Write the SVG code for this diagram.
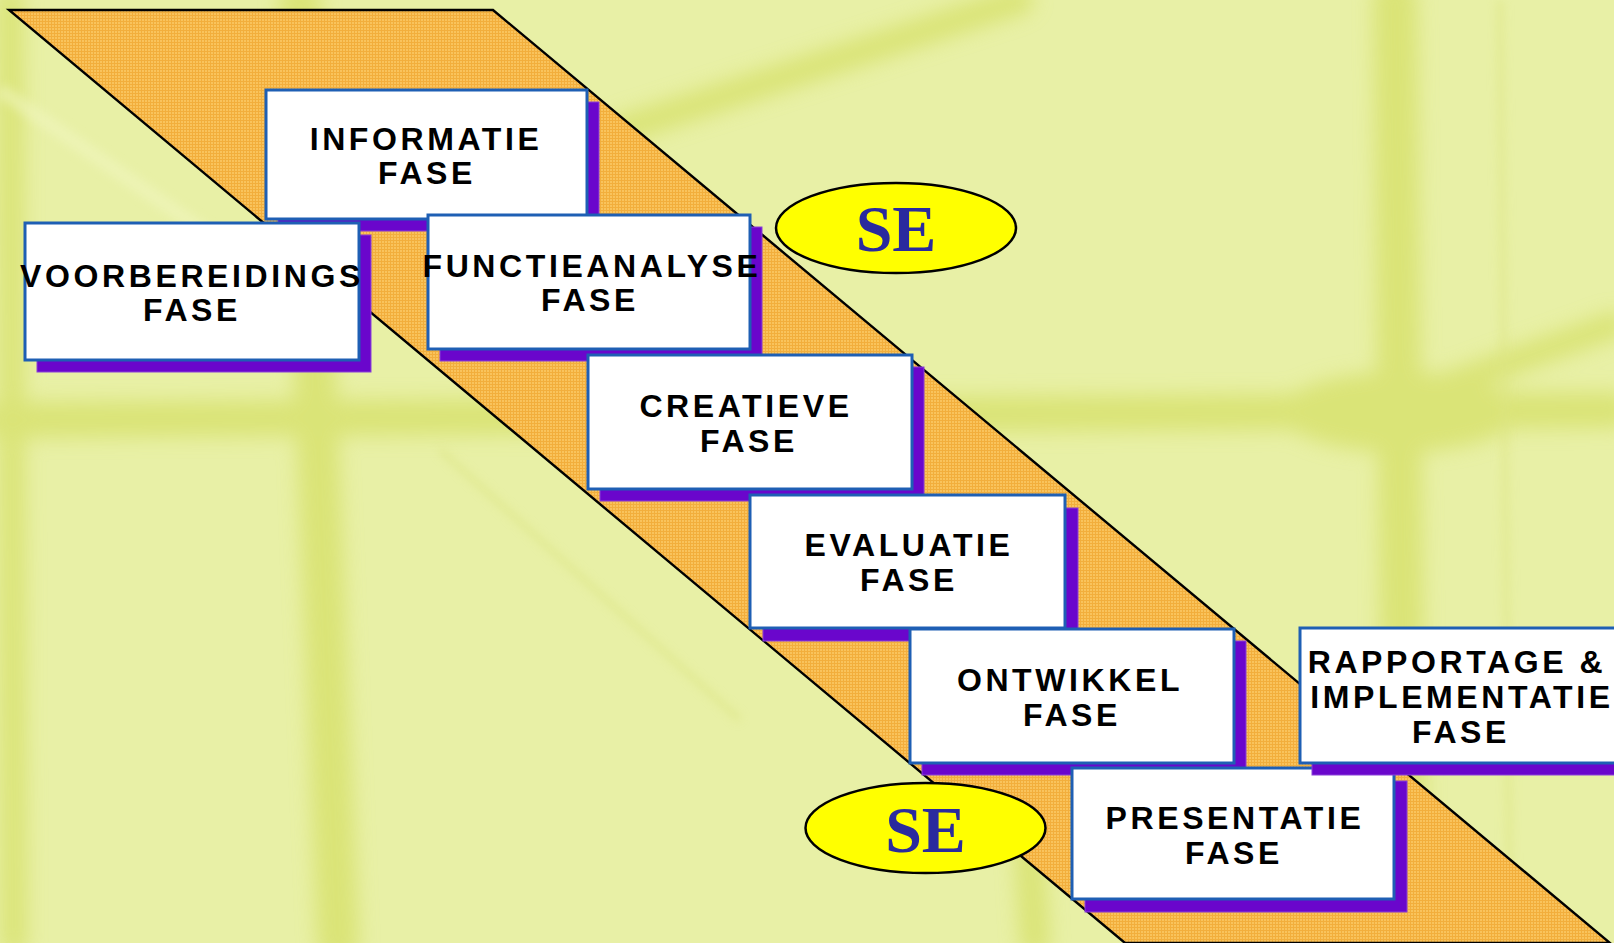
<svg xmlns="http://www.w3.org/2000/svg" width="1614" height="943" viewBox="0 0 1614 943">
<defs>
<style>
.sh{fill:#6A06CC;stroke:#8A40D8;stroke-width:1}
.bx{fill:#FFFFFF;stroke:#1E5FB4;stroke-width:3}
.t{font-family:"Liberation Sans",Arial,sans-serif;font-weight:bold;font-size:32px;letter-spacing:3.6px;fill:#000;text-anchor:middle}
.el{fill:#FFFF00;stroke:#000;stroke-width:2.5}
.se{font-family:"Liberation Serif","Times New Roman",serif;font-weight:bold;font-size:66px;fill:#2A2A9E;text-anchor:middle}
.band{stroke:#D6E068;fill:none;stroke-linecap:round}
</style>
<pattern id="grid" width="3" height="3" patternUnits="userSpaceOnUse">
<rect width="3" height="3" fill="#F9C35C"/>
<rect width="3" height="1" fill="#F2AE3C"/>
<rect width="1" height="3" fill="#F2AE3C"/>
</pattern>
<filter id="blur" x="-20%" y="-20%" width="140%" height="140%"><feGaussianBlur stdDeviation="10"/></filter>
<filter id="blur2" x="-20%" y="-20%" width="140%" height="140%"><feGaussianBlur stdDeviation="5"/></filter>
</defs>
<g id="background">
<rect width="1614" height="943" fill="#E8F0A6"/>
<g filter="url(#blur)" opacity="0.75">
<line class="band" x1="300" y1="0" x2="338" y2="943" stroke-width="42"/>
<line class="band" x1="0" y1="420" x2="1614" y2="410" stroke-width="36"/>
<line class="band" x1="1395" y1="0" x2="1405" y2="943" stroke-width="44"/>
<ellipse cx="1400" cy="412" rx="120" ry="40" fill="#D6E068"/>
<line class="band" x1="620" y1="130" x2="1020" y2="0" stroke-width="28"/>
<line class="band" x1="1420" y1="395" x2="1614" y2="325" stroke-width="26"/>
<line class="band" x1="10" y1="0" x2="14" y2="943" stroke-width="26"/>
<line class="band" x1="1020" y1="700" x2="1035" y2="943" stroke-width="30"/>
</g>
<g filter="url(#blur2)" opacity="0.5">
<line x1="0" y1="90" x2="260" y2="270" stroke="#F2F7C2" stroke-width="14"/>
<line x1="440" y1="450" x2="740" y2="720" stroke="#D9E27A" stroke-width="6"/>
<line x1="1500" y1="0" x2="1510" y2="943" stroke="#DDE582" stroke-width="8"/>
</g>
</g>
<g id="connectors">
<polygon points="9,10 493,10 1610,943 1125,943" fill="url(#grid)" stroke="#000" stroke-width="2.4"/>
</g>
<g id="informatie">
<rect class="sh" x="278" y="102" width="321" height="129"/>
<rect class="bx" x="266" y="90" width="321" height="129"/>
<text class="t" x="426" y="150">INFORMATIE</text>
<text class="t" x="427" y="184">FASE</text>
</g>
<g id="voorbereidings">
<rect class="sh" x="37" y="235" width="334" height="137"/>
<rect class="bx" x="25" y="223" width="334" height="137"/>
<text class="t" x="192" y="287">VOORBEREIDINGS</text>
<text class="t" x="192" y="321">FASE</text>
</g>
<g id="functieanalyse">
<rect class="sh" x="440" y="227" width="322" height="134"/>
<rect class="bx" x="428" y="215" width="322" height="134"/>
<text class="t" x="592" y="277">FUNCTIEANALYSE</text>
<text class="t" x="590" y="311">FASE</text>
</g>
<g id="creatieve">
<rect class="sh" x="600" y="367" width="324" height="134"/>
<rect class="bx" x="588" y="355" width="324" height="134"/>
<text class="t" x="746" y="417">CREATIEVE</text>
<text class="t" x="749" y="452">FASE</text>
</g>
<g id="evaluatie">
<rect class="sh" x="763" y="508" width="315" height="133"/>
<rect class="bx" x="750" y="495" width="315" height="133"/>
<text class="t" x="909" y="556">EVALUATIE</text>
<text class="t" x="909" y="591">FASE</text>
</g>
<g id="ontwikkel">
<rect class="sh" x="922" y="641" width="324" height="134"/>
<rect class="bx" x="910" y="629" width="324" height="134"/>
<text class="t" x="1070" y="691">ONTWIKKEL</text>
<text class="t" x="1072" y="726">FASE</text>
</g>
<g id="presentatie">
<rect class="sh" x="1085" y="781" width="322" height="131"/>
<rect class="bx" x="1072" y="768" width="322" height="131"/>
<text class="t" x="1235" y="829">PRESENTATIE</text>
<text class="t" x="1234" y="864">FASE</text>
</g>
<g id="rapportage">
<rect class="sh" x="1312" y="640" width="330" height="135"/>
<rect class="bx" x="1300" y="628" width="330" height="135"/>
<text class="t" x="1457" y="673">RAPPORTAGE &amp;</text>
<text class="t" x="1462" y="708">IMPLEMENTATIE</text>
<text class="t" x="1461" y="743">FASE</text>
</g>
<g id="se-top">
<ellipse class="el" cx="896" cy="228" rx="120" ry="45"/>
<text class="se" x="896" y="251">SE</text>
</g>
<g id="se-bottom">
<ellipse class="el" cx="925.5" cy="828" rx="120" ry="45"/>
<text class="se" x="925.5" y="852">SE</text>
</g>
</svg>
